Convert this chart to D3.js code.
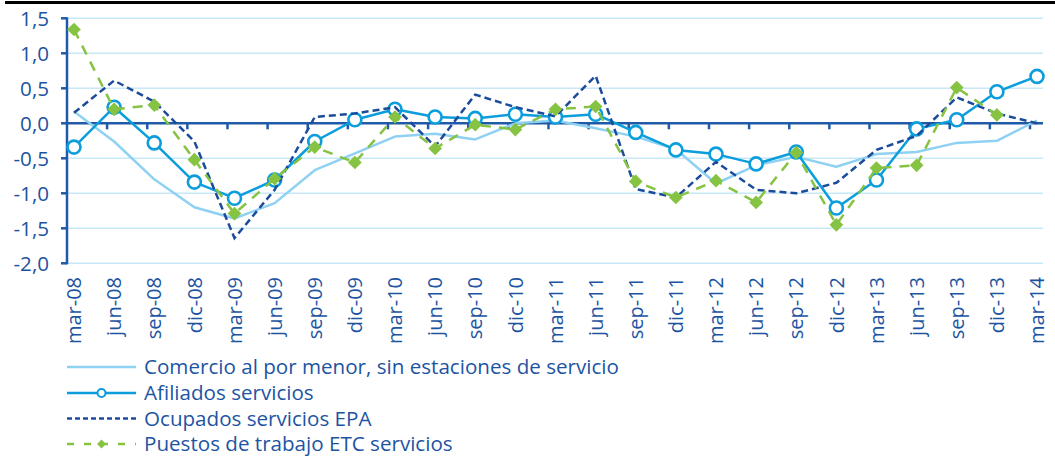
<!DOCTYPE html>
<html>
<head>
<meta charset="utf-8">
<script src="https://cdn.jsdelivr.net/npm/d3@7/dist/d3.min.js"></script>
<style>
  html, body { margin: 0; padding: 0; background: #ffffff; }
  svg { display: block; }
  text { font-family: "Open Sans", "Liberation Sans", Arial, sans-serif; fill: #1d54a2; }
</style>
</head>
<body>
<svg id="chart" width="1055" height="459"></svg>
<script>
const categories = ["mar-08","jun-08","sep-08","dic-08","mar-09","jun-09","sep-09","dic-09",
  "mar-10","jun-10","sep-10","dic-10","mar-11","jun-11","sep-11","dic-11",
  "mar-12","jun-12","sep-12","dic-12","mar-13","jun-13","sep-13","dic-13","mar-14"];

const comercio = [0.17,-0.26,-0.80,-1.20,-1.36,-1.14,-0.67,-0.43,
  -0.19,-0.15,-0.23,0.00,0.04,-0.07,-0.19,-0.37,
  -0.86,-0.60,-0.48,-0.62,-0.44,-0.41,-0.28,-0.25,0.04];

const afiliados = [-0.34,0.23,-0.28,-0.84,-1.07,-0.81,-0.26,0.05,
  0.20,0.09,0.07,0.13,0.09,0.13,-0.13,-0.38,
  -0.44,-0.58,-0.41,-1.21,-0.81,-0.08,0.05,0.45,0.67];

const ocupados = [0.15,0.61,0.31,-0.26,-1.64,-0.95,0.09,0.14,
  0.23,-0.33,0.41,0.23,0.10,0.68,-0.94,-1.06,
  -0.55,-0.95,-1.00,-0.85,-0.38,-0.18,0.37,0.14,0.00];

const puestos = [1.34,0.20,0.26,-0.52,-1.29,-0.79,-0.34,-0.56,
  0.09,-0.36,-0.02,-0.09,0.20,0.24,-0.83,-1.06,
  -0.82,-1.13,-0.42,-1.45,-0.64,-0.60,0.51,0.12,null];

const yTicks = [-2.0,-1.5,-1.0,-0.5,0.0,0.5,1.0,1.5];

const seriesNames = ["Comercio al por menor, sin estaciones de servicio",
  "Afiliados servicios", "Ocupados servicios EPA", "Puestos de trabajo ETC servicios"];

const C = {
  axis: "#1f5aa8",
  grid: "#c8e8f7",
  comercio: "#8fd1f2",
  afiliados: "#0b9ddc",
  ocupados: "#1b4c9b",
  puestos: "#86c342"
};

const svg = d3.select("#chart");

// top black rule
svg.append("rect").attr("x", 5).attr("y", 1).attr("width", 1050).attr("height", 3).attr("fill", "#000");

const x = d3.scalePoint().domain(categories).range([74, 1037]);
const y = d3.scaleLinear().domain([-2, 1.5]).range([263.3, 18.3]);
const plotLeft = 67, plotRight = 1043;
const tickShift = x.step() * 0.175;

// gridlines
svg.append("g").selectAll("line").data(yTicks.filter(v => v !== 0)).join("line")
  .attr("x1", plotLeft).attr("x2", plotRight)
  .attr("y1", d => y(d)).attr("y2", d => y(d))
  .attr("stroke", C.grid).attr("stroke-width", 1.5);

// y axis
const yAxis = svg.append("g");
yAxis.append("line").attr("x1", plotLeft).attr("x2", plotLeft)
  .attr("y1", y(1.5) - 1).attr("y2", y(-2) + 1)
  .attr("stroke", C.axis).attr("stroke-width", 2.5);
yAxis.selectAll("line.t").data(yTicks).join("line").attr("class", "t")
  .attr("x1", plotLeft - 6).attr("x2", plotLeft)
  .attr("y1", d => y(d)).attr("y2", d => y(d))
  .attr("stroke", C.axis).attr("stroke-width", 2.5);
yAxis.selectAll("text").data(yTicks).join("text")
  .attr("x", 49).attr("y", d => y(d)).attr("dy", "0.36em")
  .attr("text-anchor", "end").attr("font-size", 20.6)
  .text(d => d3.format(".1f")(d).replace(".", ",").replace("−", "-"));

// zero axis line
svg.append("line").attr("x1", plotLeft).attr("x2", plotRight)
  .attr("y1", y(0)).attr("y2", y(0))
  .attr("stroke", C.axis).attr("stroke-width", 2.5);
svg.append("g").selectAll("line").data(categories.slice(1)).join("line")
  .attr("x1", d => x(d) - tickShift).attr("x2", d => x(d) - tickShift)
  .attr("y1", y(0)).attr("y2", y(0) + 6)
  .attr("stroke", C.axis).attr("stroke-width", 2.5);

// x labels
svg.append("g").selectAll("text").data(categories).join("text")
  .attr("transform", d => `translate(${x(d)},277) rotate(-90)`)
  .attr("dy", "0.36em").attr("text-anchor", "end").attr("font-size", 20)
  .text(d => d);

function lineFor(vals) {
  return d3.line()
    .defined(d => d.v !== null)
    .x(d => x(d.c)).y(d => y(d.v))(vals.map((v, i) => ({c: categories[i], v})));
}
function pts(vals) {
  return vals.map((v, i) => ({c: categories[i], v})).filter(d => d.v !== null);
}

// Comercio
svg.append("path").attr("d", lineFor(comercio)).attr("fill", "none")
  .attr("stroke", C.comercio).attr("stroke-width", 2.5).attr("stroke-linejoin", "round");

// Afiliados
svg.append("path").attr("d", lineFor(afiliados)).attr("fill", "none")
  .attr("stroke", C.afiliados).attr("stroke-width", 2.5).attr("stroke-linejoin", "round");
svg.append("g").selectAll("circle").data(pts(afiliados)).join("circle")
  .attr("cx", d => x(d.c)).attr("cy", d => y(d.v)).attr("r", 6.5)
  .attr("fill", "#fff").attr("stroke", C.afiliados).attr("stroke-width", 2.6);

// Ocupados
svg.append("path").attr("d", lineFor(ocupados)).attr("fill", "none")
  .attr("stroke", C.ocupados).attr("stroke-width", 2.5).attr("stroke-dasharray", "7 4");

// Puestos
svg.append("path").attr("d", lineFor(puestos)).attr("fill", "none")
  .attr("stroke", C.puestos).attr("stroke-width", 2.5).attr("stroke-dasharray", "10 8");
const diamond = d3.symbol().type(d3.symbolDiamond2).size(120);
svg.append("g").selectAll("path").data(pts(puestos)).join("path")
  .attr("d", diamond)
  .attr("transform", d => `translate(${x(d.c)},${y(d.v)})`)
  .attr("fill", C.puestos);

// Legend
const legY = [367, 393, 418.5, 444];
const lg = svg.append("g");
const lx1 = 67, lx2 = 136, lxm = 101.5;
lg.append("line").attr("x1", lx1).attr("x2", lx2).attr("y1", legY[0]).attr("y2", legY[0])
  .attr("stroke", C.comercio).attr("stroke-width", 2.5);
lg.append("line").attr("x1", lx1).attr("x2", lx2).attr("y1", legY[1]).attr("y2", legY[1])
  .attr("stroke", C.afiliados).attr("stroke-width", 2.5);
lg.append("circle").attr("cx", lxm).attr("cy", legY[1]).attr("r", 4)
  .attr("fill", "#fff").attr("stroke", C.afiliados).attr("stroke-width", 2);
lg.append("line").attr("x1", lx1).attr("x2", lx2).attr("y1", legY[2]).attr("y2", legY[2])
  .attr("stroke", C.ocupados).attr("stroke-width", 2.5).attr("stroke-dasharray", "5 3");
lg.append("line").attr("x1", lx1).attr("x2", lx2).attr("y1", legY[3]).attr("y2", legY[3])
  .attr("stroke", C.puestos).attr("stroke-width", 2.5).attr("stroke-dasharray", "7 10");
lg.append("path").attr("d", d3.symbol().type(d3.symbolDiamond2).size(50))
  .attr("transform", `translate(${lxm},${legY[3]})`).attr("fill", C.puestos);
lg.selectAll("text").data(seriesNames).join("text")
  .attr("x", 144).attr("y", (d, i) => legY[i]).attr("dy", "0.36em")
  .attr("font-size", 20.6).text(d => d);
</script>
</body>
</html>
